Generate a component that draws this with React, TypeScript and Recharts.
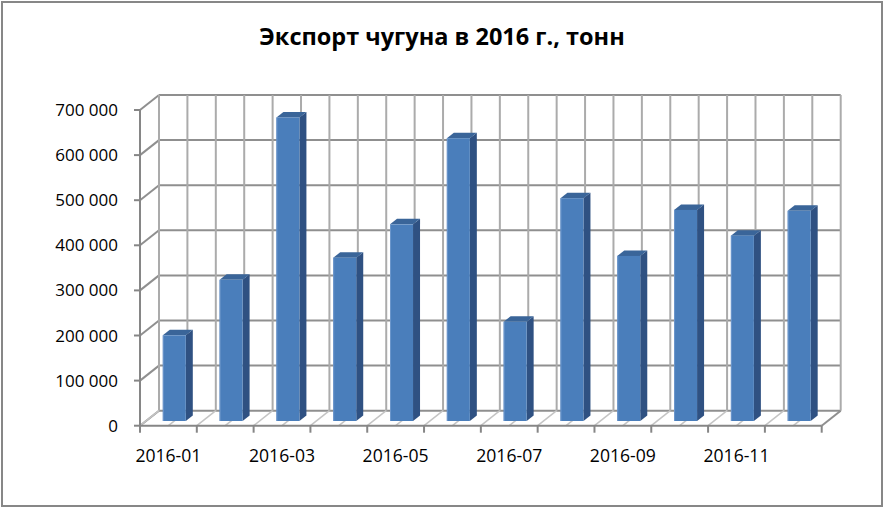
import { BarChart, Bar, XAxis, YAxis, CartesianGrid } from "recharts";

const months = [
  "2016-01", "2016-02", "2016-03", "2016-04", "2016-05", "2016-06",
  "2016-07", "2016-08", "2016-09", "2016-10", "2016-11", "2016-12",
];
const tonnes = [190000, 313000, 673000, 362000, 436000, 627000, 220000, 494000, 366000, 468000, 411000, 466000];
const yTicks = [0, 100000, 200000, 300000, 400000, 500000, 600000, 700000];

const data = months.map((m, i) => ({ month: m, value: tonnes[i] }));

// perspective offsets (Excel 3D column look)
const WALL_DX = 19;
const WALL_DY = 15;
const BAR_DX = 7;
const BAR_DY = 5.5;
const BAR_SHIFT_X = 5.8;
const BAR_SHIFT_Y = 4.7;

const FONT = "'Open Sans', 'Liberation Sans', sans-serif";

const fmt = (v: number) => String(v).replace(/\B(?=(\d{3})+(?!\d))/g, " ");

function Column3D(props: any) {
  const { x, y, width, height } = props;
  if (height == null || height <= 0) return null;
  const fx = x + BAR_SHIFT_X;
  const fy = y - BAR_SHIFT_Y;
  const r = fx + width;
  return (
    <g>
      <polygon
        points={`${r},${fy} ${r + BAR_DX},${fy - BAR_DY} ${r + BAR_DX},${fy + height - BAR_DY} ${r},${fy + height}`}
        fill="#2f5182"
      />
      <polygon
        points={`${fx},${fy} ${fx + BAR_DX},${fy - BAR_DY} ${r + BAR_DX},${fy - BAR_DY} ${r},${fy}`}
        fill="#3a6599"
      />
      <rect x={fx} y={fy} width={width} height={height} fill="#4a7ebb" />
      <line x1={fx + 0.5} y1={fy} x2={fx + 0.5} y2={fy + height} stroke="#6d97cc" strokeWidth={1} />
    </g>
  );
}

function HLine(props: any) {
  const { x1, x2, y1 } = props;
  return (
    <g>
      <line x1={x1 + WALL_DX} y1={y1 - WALL_DY} x2={x2 + WALL_DX} y2={y1 - WALL_DY} stroke="#8f8f8f" strokeWidth={2} />
      <line x1={x1} y1={y1} x2={x1 + WALL_DX} y2={y1 - WALL_DY} stroke="#8f8f8f" strokeWidth={2} />
    </g>
  );
}

function VLine(props: any) {
  const { x1, y1, y2, index } = props;
  const boundary = index % 2 === 0;
  return (
    <g>
      <line x1={x1 + WALL_DX} y1={y1 - WALL_DY} x2={x1 + WALL_DX} y2={y2 - WALL_DY} stroke="#ababab" strokeWidth={2} />
      <line x1={x1} y1={y2} x2={x1 + WALL_DX} y2={y2 - WALL_DY} stroke={index === 24 ? "#8f8f8f" : "#c4c4c4"} strokeWidth={index === 24 ? 2 : 1.5} />
      {boundary && <line x1={x1} y1={y2} x2={x1} y2={y2 + 7} stroke="#868686" strokeWidth={2} />}
    </g>
  );
}

export default function App() {
  return (
    <div style={{ position: "absolute", left: 0, top: 0, width: 884, height: 508, background: "#fff" }}>
      <div
        style={{
          position: "absolute",
          left: 1,
          top: 1,
          width: 882,
          height: 506,
          border: "2px solid #878787",
          boxSizing: "border-box",
        }}
      />
      <div
        style={{
          position: "absolute",
          left: 0,
          top: 20,
          width: 884,
          textAlign: "center",
          fontFamily: FONT,
          fontWeight: 700,
          fontSize: 23.5,
          lineHeight: "32px",
          color: "#000",
        }}
      >
        Экспорт чугуна в 2016 г., тонн
      </div>
      <BarChart
        width={884}
        height={508}
        data={data}
        margin={{ top: 110, right: 62.3, bottom: 52.3, left: 80 }}
        style={{ position: "absolute", left: 0, top: 0 }}
      >
        <CartesianGrid
          horizontal={(p: any) => <HLine key={p.key} {...p} />}
          vertical={(p: any) => <VLine key={p.key} {...p} />}
          verticalCoordinatesGenerator={({ offset }: any) =>
            Array.from({ length: 25 }, (_, k) => offset.left + (k * offset.width) / 24)
          }
        />
        <XAxis
          dataKey="month"
          height={30}
          interval={1}
          tickLine={false}
          tickMargin={18}
          axisLine={{ stroke: "#868686", strokeWidth: 2 }}
          tick={{ fill: "#000", fontSize: 17.6, fontFamily: FONT }}
        />
        <YAxis
          width={60}
          domain={[0, 700000]}
          ticks={yTicks}
          interval={0}
          tickFormatter={fmt}
          tickMargin={16}
          tickSize={6}
          tickLine={{ stroke: "#868686", strokeWidth: 2 }}
          axisLine={{ stroke: "#868686", strokeWidth: 2 }}
          tick={{ fill: "#000", fontSize: 17, fontFamily: FONT }}
        />
        <Bar dataKey="value" barSize={23} shape={(p: any) => <Column3D {...p} />} isAnimationActive={false} />
      </BarChart>
    </div>
  );
}
